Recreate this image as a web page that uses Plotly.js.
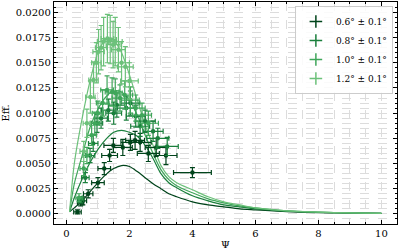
<!DOCTYPE html>
<html><head><meta charset="utf-8">
<script src="https://cdn.plot.ly/plotly-3.0.1.min.js"></script>
<style>html,body{margin:0;padding:0;background:#fff}#c{width:399px;height:250px}</style>
</head><body><div id="c"></div>
<script>
const labels = ['0.6° ± 0.1°','0.8° ± 0.1°','1.0° ± 0.1°','1.2° ± 0.1°'];
const colors = ['#00441b','#1a7f3c','#3fa65a','#6cc17a'];

// measured points
const x06 = [0.35,0.45,0.52,0.69,1.0,1.2,1.37,1.49,1.79,2.03,2.18,2.34,2.6,2.85,3.16,4.0];
const y06 = [0.0002,0.0011,0.0013,0.0020,0.0031,0.0045,0.0058,0.0068,0.0066,0.0071,0.0073,0.0071,0.0060,0.0066,0.0058,0.0041];
const ex06 = [0.12,0.1,0.12,0.15,0.2,0.2,0.25,0.3,0.3,0.3,0.3,0.35,0.35,0.35,0.35,0.6];
const ey06 = [0.0002,0.0003,0.0004,0.0004,0.0005,0.0006,0.0006,0.0007,0.0008,0.0008,0.0009,0.0009,0.0008,0.0009,0.0009,0.0005];

const x08 = [0.45,0.6,0.75,0.85,0.97,1.1,1.33,1.5,1.6,1.9,2.03,2.2,2.34,2.5,2.75,2.9,3.2];
const y08 = [0.0014,0.0036,0.0058,0.0070,0.0090,0.0095,0.0103,0.0100,0.0108,0.0105,0.0110,0.0097,0.0087,0.0092,0.0082,0.0075,0.0067];
const ex08 = [0.1,0.12,0.15,0.15,0.18,0.2,0.22,0.25,0.25,0.28,0.3,0.3,0.3,0.32,0.32,0.35,0.35];
const ey08 = [0.0003,0.0005,0.0007,0.0008,0.0009,0.0010,0.0011,0.0011,0.0012,0.0012,0.0012,0.0011,0.0010,0.0011,0.0010,0.0010,0.0009];

const x10 = [0.4,0.55,0.65,0.8,0.9,1.0,1.15,1.29,1.45,1.55,1.7,1.85,2.03,2.2,2.4,2.6];
const y10 = [0.0016,0.0045,0.0058,0.0078,0.0090,0.0100,0.0110,0.0123,0.0121,0.0120,0.0115,0.0118,0.0113,0.0105,0.0098,0.0090];
const ex10 = [0.1,0.12,0.12,0.15,0.15,0.18,0.2,0.2,0.22,0.22,0.25,0.25,0.28,0.3,0.3,0.32];
const ey10 = [0.0004,0.0007,0.0008,0.0010,0.0011,0.0012,0.0013,0.0014,0.0014,0.0014,0.0013,0.0014,0.0013,0.0013,0.0012,0.0012];

const x12 = [0.55,0.65,0.76,0.86,0.95,1.02,1.1,1.18,1.3,1.39,1.48,1.55,1.65,1.75,1.87,2.0];
const y12 = [0.0062,0.0090,0.0116,0.0133,0.0150,0.0161,0.0165,0.0171,0.0174,0.0173,0.0168,0.0171,0.0163,0.0150,0.0146,0.0132];
const ex12 = [0.12,0.12,0.15,0.15,0.15,0.18,0.18,0.2,0.2,0.2,0.22,0.22,0.22,0.25,0.25,0.28];
const ey12 = [0.0010,0.0014,0.0016,0.0018,0.0020,0.0022,0.0022,0.0024,0.0024,0.0024,0.0023,0.0024,0.0022,0.0021,0.0020,0.0018];

// model curves
const cx = [0.1,0.25,0.5,0.75,1.0,1.25,1.5,1.75,2.0,2.25,2.5,2.75,3.0,3.25,3.5,4.0,4.5,5.0,5.5,6.0,7.0,8.0,9.0,10.0];
const c06 = [0.0002,0.0006,0.0013,0.0022,0.0031,0.0039,0.0045,0.0048,0.0047,0.0042,0.0036,0.0030,0.0025,0.0020,0.0017,0.0012,0.0009,0.0007,0.0005,0.0004,0.00022,0.00013,0.00008,0.00005];
const c08 = [0.0002,0.0016,0.0035,0.0051,0.0064,0.0074,0.0081,0.0083,0.0081,0.0077,0.0068,0.0055,0.0040,0.0031,0.0026,0.0018,0.0013,0.0009,0.0007,0.0005,0.00028,0.00016,0.0001,0.00006];
const c10 = [0.0002,0.0030,0.0058,0.0086,0.0104,0.0116,0.0122,0.0121,0.0113,0.0098,0.0078,0.0060,0.0044,0.0034,0.0028,0.0021,0.0015,0.0011,0.0008,0.0006,0.0003,0.00017,0.0001,0.00006];
const c12 = [0.0002,0.0050,0.0095,0.0132,0.0160,0.0173,0.0172,0.0160,0.0138,0.0113,0.0088,0.0068,0.0048,0.0037,0.0031,0.0024,0.0017,0.0012,0.0009,0.0006,0.0003,0.00018,0.0001,0.00006];

const pts = [[x06,y06,ex06,ey06],[x08,y08,ex08,ey08],[x10,y10,ex10,ey10],[x12,y12,ex12,ey12]];
const curves = [c06,c08,c10,c12];

const traces = [];
curves.forEach((c,i)=>{
  traces.push({x:cx,y:c,type:'scatter',mode:'lines',line:{color:colors[i],width:1.2,shape:'spline',smoothing:0.8},showlegend:false,hoverinfo:'skip'});
});
pts.forEach((p,i)=>{
  traces.push({x:p[0],y:p[1],type:'scatter',mode:'markers',
    marker:{color:colors[i],size:4.5},
    error_x:{type:'data',array:p[2],color:colors[i],thickness:1.2,width:2.5},
    error_y:{type:'data',array:p[3],color:colors[i],thickness:1.2,width:2.5},
    showlegend:false});
});
labels.forEach((l,i)=>{
  traces.push({x:[null],y:[null],type:'scatter',mode:'markers',name:l,
    marker:{color:colors[i],size:9,symbol:'cross-thin',line:{color:colors[i],width:1.5}}});
});

const gridc = '#dcdcdc';
const axisBase = {
  showline:true, linecolor:'#000', linewidth:1.2, mirror:'ticks',
  ticks:'inside', ticklen:4, tickwidth:1, tickcolor:'#000',
  showgrid:true, gridcolor:gridc, griddash:'dash', gridwidth:1,
  zeroline:false, tickfont:{family:'DejaVu Serif', size:10, color:'#000'}
};
const layout = {
  width:399, height:250,
  margin:{l:54,r:2,t:2,b:26},
  paper_bgcolor:'#fff', plot_bgcolor:'#fff',
  font:{family:'DejaVu Serif', size:10, color:'#000'},
  xaxis:Object.assign({}, axisBase, {
    range:[-0.395,10.495], tickvals:[0,2,4,6,8,10],
    minor:{dtick:0.5, tick0:0, ticks:'inside', ticklen:2, tickcolor:'#000', showgrid:true, gridcolor:gridc, griddash:'dash', gridwidth:1},
    title:{text:'Ψ', font:{family:'DejaVu Serif', size:10}, standoff:4}
  }),
  yaxis:Object.assign({}, axisBase, {
    range:[-0.001,0.02103], tickvals:[0,0.0025,0.005,0.0075,0.01,0.0125,0.015,0.0175,0.02],
    tickformat:'.4f',
    minor:{dtick:0.0005, tick0:0, ticks:'inside', ticklen:2, tickcolor:'#000', showgrid:true, gridcolor:gridc, griddash:'dash', gridwidth:1},
    title:{text:'Eff.', font:{family:'DejaVu Serif', size:10}, standoff:6}
  }),
  legend:{x:0.988, y:0.982, xanchor:'right', yanchor:'top',
    bgcolor:'rgba(255,255,255,0.85)', bordercolor:'#cccccc', borderwidth:1,
    font:{family:'DejaVu Serif', size:9}, tracegroupgap:0, itemwidth:30},
  showlegend:true
};
Plotly.newPlot('c', traces, layout, {staticPlot:true, displayModeBar:false});
</script></body></html>
